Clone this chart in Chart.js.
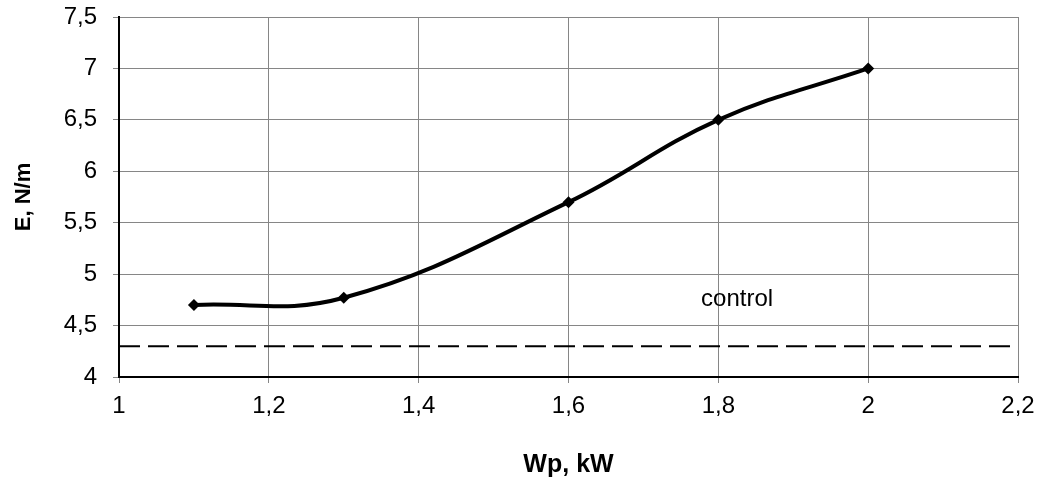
<!DOCTYPE html>
<html>
<head>
<meta charset="utf-8">
<script src="https://cdn.jsdelivr.net/npm/chart.js@4"></script>
<style>
  html, body { margin: 0; padding: 0; background: #fff; }
  #wrap { width: 1041px; height: 481px; }
</style>
</head>
<body>
<div id="wrap"><canvas id="grafica"></canvas></div>
<script>
// datos
const potencia = [1.1, 1.3, 1.6, 1.8, 2.0];
const energia = [4.7, 4.77, 5.7, 6.5, 7.0];
const nivelControl = 4.3;
const rangoX = [1, 2.2];
const rangoY = [4, 7.5];
const etiquetaControl = 'control';
const posEtiquetaControl = [1.777, 4.75];

const fmt = v => (Math.round(v * 10) / 10).toString().replace('.', ',');

// texto "control" dentro del área del gráfico
const textoControl = {
    id: 'textoControl',
    afterDatasetsDraw(chart) {
        const ctx = chart.ctx;
        const x = chart.scales.x.getPixelForValue(posEtiquetaControl[0]);
        const y = chart.scales.y.getPixelForValue(posEtiquetaControl[1]);
        ctx.save();
        ctx.font = '24px "Liberation Sans", Arial, sans-serif';
        ctx.fillStyle = '#000';
        ctx.textAlign = 'left';
        ctx.textBaseline = 'middle';
        ctx.fillText(etiquetaControl, x, y);
        ctx.restore();
    }
};

new Chart(document.getElementById('grafica'), {
    type: 'line',
    data: {
        datasets: [
            {
                label: 'E',
                data: potencia.map((p, i) => ({ x: p, y: energia[i] })),
                borderColor: '#000',
                backgroundColor: '#000',
                borderWidth: 4,
                tension: 0.4,
                pointStyle: 'rectRot',
                pointRadius: 6,
                pointBorderWidth: 0
            },
            {
                label: 'control',
                data: rangoX.map(p => ({ x: p, y: nivelControl })),
                borderColor: '#000',
                borderWidth: 2,
                borderDash: [21, 8],
                pointRadius: 0
            }
        ]
    },
    options: {
        responsive: true,
        maintainAspectRatio: false,
        animation: false,
        layout: { padding: { left: 0, right: 23, top: 17, bottom: 0 } },
        plugins: {
            legend: { display: false },
            tooltip: { enabled: false }
        },
        scales: {
            x: {
                type: 'linear',
                min: rangoX[0],
                max: rangoX[1],
                afterFit(scale) {
                    scale.height = 104;
                    scale.paddingLeft = 0;
                    scale.paddingRight = 0;
                },
                ticks: {
                    stepSize: 0.2,
                    padding: 9,
                    color: '#000',
                    font: { family: '"Liberation Sans", Arial', size: 24 },
                    callback: v => fmt(v),
                    maxRotation: 0
                },
                grid: { color: '#868686', lineWidth: 1, tickLength: 6 },
                border: { color: '#000', width: 2 },
                title: {
                    display: true,
                    text: 'Wp, kW',
                    color: '#000',
                    font: { family: '"Liberation Sans", Arial', size: 25, weight: 'bold' },
                    padding: { top: 20, bottom: 1 }
                }
            },
            y: {
                type: 'linear',
                min: rangoY[0],
                max: rangoY[1],
                afterFit(scale) {
                    scale.width = 119;
                    scale.paddingTop = 0;
                    scale.paddingBottom = 0;
                },
                ticks: {
                    stepSize: 0.5,
                    padding: 16,
                    color: '#000',
                    font: { family: '"Liberation Sans", Arial', size: 24 },
                    callback: v => fmt(v)
                },
                grid: { color: '#868686', lineWidth: 1, tickLength: 6 },
                border: { color: '#000', width: 2 },
                title: {
                    display: true,
                    text: 'E, N/m',
                    color: '#000',
                    font: { family: '"Liberation Sans", Arial', size: 22, weight: 'bold' },
                    padding: { top: 11 }
                }
            }
        }
    },
    plugins: [textoControl]
});
</script>
</body>
</html>
